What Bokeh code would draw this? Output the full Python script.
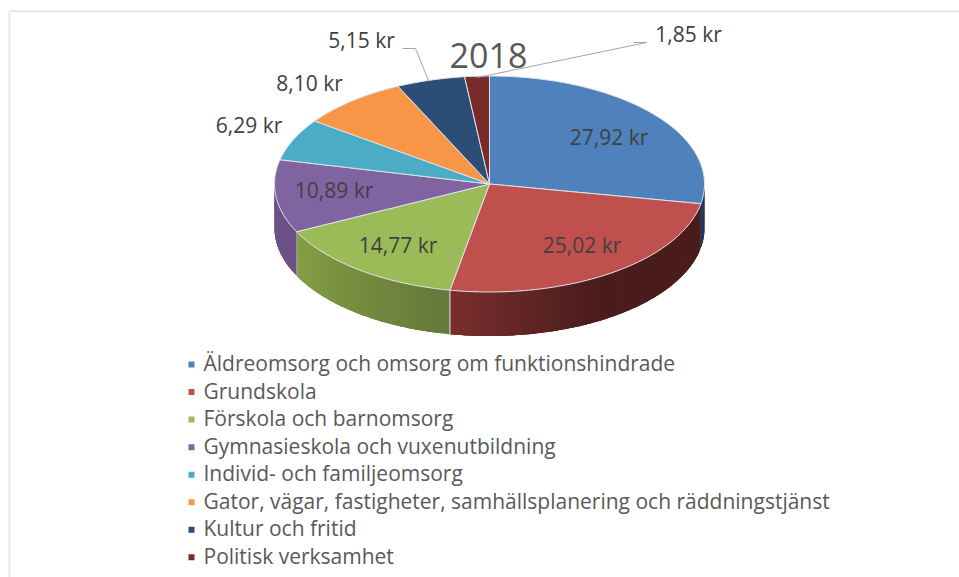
import math
from bokeh.plotting import figure
from bokeh.models import Range1d
from bokeh.core.properties import value
from bokeh.embed import file_html
from bokeh.resources import INLINE

title = "2018"
categories = ["Äldreomsorg och omsorg om funktionshindrade", "Grundskola", "Förskola och barnomsorg",
              "Gymnasieskola och vuxenutbildning", "Individ- och familjeomsorg",
              "Gator, vägar, fastigheter, samhällsplanering och räddningstjänst",
              "Kultur och fritid", "Politisk verksamhet"]
values = [27.92, 25.02, 14.77, 10.89, 6.29, 8.10, 5.15, 1.85]
colors = ["#4f81bd", "#c0504d", "#9bbb59", "#8064a2", "#4bacc6", "#f79646", "#2c4d75", "#772c2a"]

# side shading of the visible rim: (colour at start of slice, colour at end of slice)
side_shade = {0: ("#1e3c5e", "#1e3c5e"), 1: ("#4a1c1c", "#7a2e2e"), 2: ("#65783a", "#85a045"), 3: ("#6c5088", "#6c5088")}

# layout (page pixels)
CX, CY, RX, RY, DEPTH = 489, 183.5, 215, 108, 44
label_pos = [(608.5, 136), (581.5, 244), (397.5, 244), (333.5, 189), (248.5, 124), (309, 82), (361, 39), (688, 33)]
leaders = {6: [(402, 48), (415, 48), (428, 80)], 7: [(633, 42), (646, 42), (477, 77)]}
legend_y0, legend_step = 362.5, 27.55
marker_y0 = 364
TEXT = "#595959"
FONT = "Open Sans"

p = figure(width=959, height=577, output_backend="svg", toolbar_location=None,
           x_range=Range1d(0, 959), y_range=Range1d(577, 0), min_border=0)
p.axis.visible = False
p.grid.visible = False
p.outline_line_color = None
p.background_fill_color = "white"
p.border_fill_color = "white"

# chart frame
p.line([959, 9], [10.7, 10.7], line_color="#e6e6e6", line_width=2)
p.line([9, 9], [10.7, 577], line_color="#e6e6e6", line_width=2)


def pt(t, dy=0.0):
    return CX + RX * math.sin(t), CY - RY * math.cos(t) + dy


def mix(a, b, f):
    ca = [int(a[i:i + 2], 16) for i in (1, 3, 5)]
    cb = [int(b[i:i + 2], 16) for i in (1, 3, 5)]
    return "#%02x%02x%02x" % tuple(round(x + (y - x) * f) for x, y in zip(ca, cb))


total = sum(values)
angles = [0.0]
for v in values:
    angles.append(angles[-1] + 2 * math.pi * v / total)

# rim
for i, shade in side_shade.items():
    a0 = max(angles[i], math.pi / 2)
    a1 = min(angles[i + 1], 3 * math.pi / 2)
    n = max(2, int(math.degrees(a1 - a0) / 1.5))
    for k in range(n):
        t0 = a0 + (a1 - a0) * k / n
        t1 = min(a1, a0 + (a1 - a0) * (k + 3) / n)
        f = (k + 0.5) / n
        if i == 1:
            f = max(0.0, (f - 0.55) / 0.45)
        col = mix(shade[0], shade[1], f)
        m = 6
        ts = [t0 + (t1 - t0) * j / m for j in range(m + 1)]
        top = [pt(t) for t in ts]
        xs = [q[0] for q in top] + [q[0] for q in reversed(top)]
        ys = [q[1] for q in top] + [q[1] + DEPTH for q in reversed(top)]
        p.patch(xs, ys, fill_color=col, line_color=None)
    if i == 2:
        x0, y0 = pt(a0)
        p.line([x0, x0], [y0, y0 + DEPTH], line_color="#e4e4e4", line_width=1)
        x1, y1 = pt(a1)
        p.line([x1, x1], [y1, y1 + DEPTH], line_color="#e4e4e4", line_width=1)

# top face
for i, c in enumerate(colors):
    n = max(4, int(math.degrees(angles[i + 1] - angles[i])))
    pts = [pt(angles[i] + (angles[i + 1] - angles[i]) * k / n) for k in range(n + 1)]
    xs = [CX] + [q[0] for q in pts]
    ys = [CY] + [q[1] for q in pts]
    p.patch(xs, ys, fill_color=c, line_color="#dfe3e8", line_width=1)

# leader lines
for i, seg in leaders.items():
    p.line([q[0] for q in seg], [q[1] for q in seg], line_color="#a6a6a6", line_width=1)

# title
p.text([488], [55], text=[title], text_font=value(FONT), text_font_size="34px", text_color=TEXT,
       text_align="center", text_baseline="middle")

# data labels
for (lx, ly), v in zip(label_pos, values):
    s = f"{v:.2f}".replace(".", ",") + " kr"
    p.text([lx], [ly], text=[s], text_font=value(FONT), text_font_size="21px", text_color="#404040",
           text_align="center", text_baseline="middle")

# legend
for i, (cat, c) in enumerate(zip(categories, colors)):
    p.scatter([191], [marker_y0 + i * legend_step], marker="square", size=6, fill_color=c, line_color=None)
    p.text([203], [legend_y0 + i * legend_step], text=[cat], text_font=value(FONT), text_font_size="21px",
           text_color=TEXT, text_align="left", text_baseline="middle")

open("out.html", "w").write(file_html(p, INLINE))
